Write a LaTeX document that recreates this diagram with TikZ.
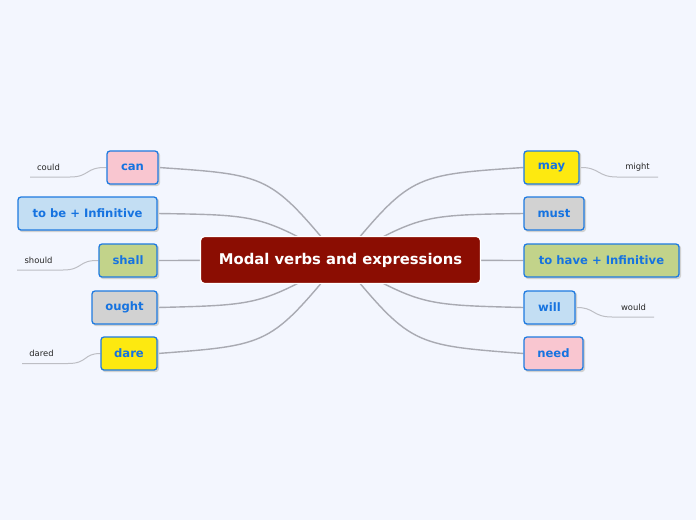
\documentclass[tikz,border=0pt]{standalone}
\usepackage{fontspec}
\setmainfont{DejaVu Sans}
\usetikzlibrary{backgrounds}
\definecolor{bg}{HTML}{F3F6FE}
\definecolor{central}{HTML}{8B0D02}
\definecolor{bord}{HTML}{1E7AE0}
\definecolor{txt}{HTML}{1673E0}
\definecolor{cpink}{HTML}{F9C6D0}
\definecolor{cblue}{HTML}{C3DEF3}
\definecolor{cgreen}{HTML}{C2D38A}
\definecolor{cgrey}{HTML}{D2D2D2}
\definecolor{cyellow}{HTML}{FDE910}
\definecolor{conn}{HTML}{A9AAB2}
\definecolor{subl}{HTML}{BDBEC4}
\tikzset{
  topic/.style={draw=bord, line width=1.3pt, rounded corners=3pt, text=txt,
    font=\fontsize{11.6}{13}\selectfont\bfseries, minimum height=33pt, inner sep=0pt,
    preaction={draw=black!18, fill=black!18, transform canvas={xshift=1.5pt,yshift=-1.5pt}}},
  conn/.style={draw=conn, line width=1.4pt},
  subline/.style={draw=subl, line width=1pt},
  sublabel/.style={font=\fontsize{8.4}{9}\selectfont, text=black!85, inner sep=0pt}
}
\begin{document}
\begin{tikzpicture}[x=1pt,y=-1pt]
\useasboundingbox (0,0) rectangle (696,520);
\node[draw=white, line width=1.3pt, fill=central, rounded corners=4pt, text=white,
  font=\fontsize{14.8}{16}\selectfont\bfseries, minimum width=280pt, minimum height=47pt, inner sep=0pt]
  (c) at (340.5,260) {Modal verbs and expressions};
% left
\node[topic, fill=cpink, minimum width=51pt] (can) at (132.5,167.5) {can};
\node[topic, fill=cblue, minimum width=139pt] (tobe) at (87.5,213.5) {to be + Infinitive};
\node[topic, fill=cgreen, minimum width=58pt] (shall) at (128,260.5) {shall};
\node[topic, fill=cgrey, minimum width=65pt] (ought) at (124.5,307.5) {ought};
\node[topic, fill=cyellow, minimum width=56pt] (dare) at (129,353.5) {dare};
% right
\node[topic, fill=cyellow, minimum width=55pt] (may) at (551.5,167.5) {may};
\node[topic, fill=cgrey, minimum width=60pt] (must) at (554,213.5) {must};
\node[topic, fill=cgreen, minimum width=155pt] (tohave) at (601.5,260.5) {to have + Infinitive};
\node[topic, fill=cblue, minimum width=51pt] (will) at (549.5,307.5) {will};
\node[topic, fill=cpink, minimum width=59pt] (need) at (553.5,353.5) {need};
% sub labels
\node[sublabel] (could) at (48.5,167) {could};
\node[sublabel] (should) at (38.5,260) {should};
\node[sublabel] (dared) at (41.5,353.5) {dared};
\node[sublabel] (might) at (637.5,167) {might};
\node[sublabel] (would) at (633.5,307) {would};
\coordinate (couldL) at (30,177);
\coordinate (couldR) at (70,177);
\coordinate (shouldL) at (17,270);
\coordinate (shouldR) at (63,270);
\coordinate (daredL) at (22,363.5);
\coordinate (daredR) at (68,363.5);
\coordinate (mightL) at (617,177);
\coordinate (mightR) at (658,177);
\coordinate (wouldL) at (612,317);
\coordinate (wouldR) at (654,317);
\begin{scope}[on background layer]
\fill[bg] (0,0) rectangle (696,520);
\draw[conn] (c.center) .. controls (270,175) .. (can.east);
\draw[conn] (c.center) .. controls (260,215) .. (tobe.east);
\draw[conn] (c.center) -- (shall.east);
\draw[conn] (c.center) .. controls (260,305) .. (ought.east);
\draw[conn] (c.center) .. controls (270,345) .. (dare.east);
\draw[conn] (c.center) .. controls (411,175) .. (may.west);
\draw[conn] (c.center) .. controls (421,215) .. (must.west);
\draw[conn] (c.center) -- (tohave.west);
\draw[conn] (c.center) .. controls (421,305) .. (will.west);
\draw[conn] (c.center) .. controls (411,345) .. (need.west);
\draw[subline] (couldL) -- (couldR) .. controls (90,177) and (85,167) .. (can.west);
\draw[subline] (shouldL) -- (shouldR) .. controls (83,270) and (78,260) .. (shall.west);
\draw[subline] (daredL) -- (daredR) .. controls (88,363.5) and (83,353.5) .. (dare.west);
\draw[subline] (mightR) -- (mightL) .. controls (597,177) and (600,167) .. (may.east);
\draw[subline] (wouldR) -- (wouldL) .. controls (592,317) and (595,307) .. (will.east);
\end{scope}
\end{tikzpicture}
\end{document}
